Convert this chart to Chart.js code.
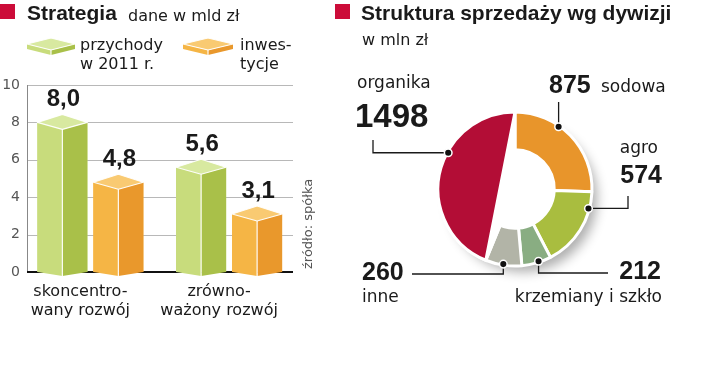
<!DOCTYPE html>
<html><head><meta charset="utf-8">
<script src="https://cdn.jsdelivr.net/npm/chart.js@4.4.1/dist/chart.umd.min.js"></script>
<style>
html,body{margin:0;padding:0;background:#fff;width:720px;height:379px;overflow:hidden;}
#wrap{position:relative;width:720px;height:379px;}
canvas{position:absolute;top:0;}
#c1{left:0;} #c2{left:320px;}
.t{position:absolute;white-space:nowrap;line-height:1;color:#1a1a1a;}
.sq{position:absolute;background:#cc0c39;width:15px;height:15px;}
.bold{font-family:"Liberation Sans",Arial,sans-serif;font-weight:bold;font-size:21px;}
.reg{font-family:"DejaVu Sans",sans-serif;font-size:16px;}
#src{font-family:"DejaVu Sans",sans-serif;font-size:13px;color:#555;transform:rotate(-90deg);transform-origin:0 0;}
</style></head>
<body><div id="wrap">
<canvas id="c1" width="320" height="379"></canvas>
<canvas id="c2" width="400" height="379"></canvas>
<div class="sq" style="left:0;top:4px"></div>
<div class="t bold" style="left:27px;top:2px">Strategia</div>
<div class="t reg" style="left:128px;top:7.5px">dane w mld zł</div>
<div class="sq" style="left:335px;top:4px"></div>
<div class="t bold" style="left:361px;top:1.7px">Struktura sprzedaży wg dywizji</div>
<div class="t reg" style="left:362px;top:31.5px">w mln zł</div>
<div class="t" id="src" style="left:300.5px;top:269px">źródło: spółka</div>
</div>
<script>
// ---------- data ----------
const categories = [['skoncentro-', 'wany rozwój'], ['zrówno-', 'ważony rozwój']];
const seriesLabels = [['przychody', 'w 2011 r.'], ['inwes-', 'tycje']];
const revenue2011 = [8.0, 5.6];
const investments = [4.8, 3.1];
const yTickValues = [0, 2, 4, 6, 8, 10];

const divisions = ['sodowa', 'agro', 'krzemiany i szkło', 'inne', 'organika'];
const divisionSales = [875, 574, 212, 260, 1498];

// ---------- styles ----------
const FONT_REG = '"DejaVu Sans", sans-serif';
const FONT_BOLD = '"Liberation Sans", Arial, sans-serif';
const BAR_STYLE = [
  {left: '#c8dc7c', right: '#a9c049', top: '#d8e9a0'},
  {left: '#f5b545', right: '#e9982c', top: '#f9ca72'}
];
const DONUT_COLORS = ['#e8952b', '#a9bd3f', '#89ad82', '#b2b4a7', '#b30d36'];

function poly(ctx, pts) {
  ctx.beginPath();
  ctx.moveTo(pts[0][0], pts[0][1]);
  for (let i = 1; i < pts.length; i++) ctx.lineTo(pts[i][0], pts[i][1]);
  ctx.closePath();
}
function drawBox(ctx, L, R, top, bottom, st, fr, bk, frB) {
  const M = L + (R - L) * 0.5;
  ctx.save();
  ctx.lineJoin = 'round';
  ctx.fillStyle = st.left;
  poly(ctx, [[L, top], [M, top + fr], [M, bottom + frB], [L, bottom]]); ctx.fill();
  ctx.fillStyle = st.right;
  poly(ctx, [[M, top + fr], [R, top], [R, bottom], [M, bottom + frB]]); ctx.fill();
  ctx.fillStyle = st.top;
  poly(ctx, [[L, top], [M, top - bk], [R, top], [M, top + fr]]); ctx.fill();
  ctx.strokeStyle = 'rgba(255,255,255,0.95)';
  ctx.lineWidth = 1.2;
  poly(ctx, [[L, top], [M, top - bk], [R, top], [M, top + fr]]); ctx.stroke();
  ctx.beginPath(); ctx.moveTo(M, top + fr); ctx.lineTo(M, bottom + frB); ctx.stroke();
  ctx.restore();
}
const fmt = v => v.toFixed(1).replace('.', ',');

// ---------- bar chart ----------
const barDeco = {
  id: 'barDeco',
  beforeDatasetsDraw(chart) {
    const {ctx, chartArea: a, scales: {y}} = chart;
    const gl = a.left + 6, gr = a.right - 5.5;
    ctx.save();
    ctx.strokeStyle = '#b8b8b8'; ctx.lineWidth = 1;
    yTickValues.forEach(v => {
      if (v === 0) return;
      const py = Math.round(y.getPixelForValue(v)) + 0.5;
      ctx.beginPath(); ctx.moveTo(gl, py); ctx.lineTo(gr, py); ctx.stroke();
    });
    ctx.strokeStyle = '#888';
    ctx.beginPath();
    ctx.moveTo(gl + 0.5, y.getPixelForValue(yTickValues[yTickValues.length - 1]));
    ctx.lineTo(gl + 0.5, y.getPixelForValue(0)); ctx.stroke();
    ctx.strokeStyle = '#111'; ctx.lineWidth = 2;
    const by = Math.round(y.getPixelForValue(0));
    ctx.beginPath(); ctx.moveTo(gl, by); ctx.lineTo(gr, by); ctx.stroke();
    ctx.restore();
  },
  afterDatasetsDraw(chart) {
    const ctx = chart.ctx;
    chart.data.datasets.forEach((ds, di) => {
      const meta = chart.getDatasetMeta(di);
      meta.data.forEach((el, i) => {
        const {x, y, base, width} = el.getProps(['x', 'y', 'base', 'width'], true);
        drawBox(ctx, x - width / 2, x + width / 2, y, base, BAR_STYLE[di], 7, 8, 4);
        ctx.save();
        ctx.fillStyle = '#1a1a1a';
        ctx.font = 'bold 24px ' + FONT_BOLD;
        ctx.textAlign = 'center'; ctx.textBaseline = 'alphabetic';
        ctx.fillText(fmt(ds.data[i]), x + 1, y - 16);
        ctx.restore();
      });
    });
  },
  afterDraw(chart) {
    const ctx = chart.ctx;
    const legendPos = [{L: 27, R: 75, tx: 80}, {L: 183, R: 233, tx: 240}];
    seriesLabels.forEach((lines, i) => {
      const p = legendPos[i];
      drawBox(ctx, p.L, p.R, 44, 49, BAR_STYLE[i], 6, 6, 6);
      ctx.save();
      ctx.fillStyle = '#1a1a1a';
      ctx.font = '16px ' + FONT_REG;
      ctx.textAlign = 'left';
      ctx.fillText(lines[0], p.tx, 50);
      ctx.fillText(lines[1], p.tx, 69);
      ctx.restore();
    });
  }
};

new Chart(document.getElementById('c1'), {
  type: 'bar',
  data: {
    labels: categories,
    datasets: [
      {label: 'przychody w 2011 r.', data: revenue2011, backgroundColor: BAR_STYLE[0].left,
       categoryPercentage: 0.807, barPercentage: 0.893},
      {label: 'inwestycje', data: investments, backgroundColor: BAR_STYLE[1].left,
       categoryPercentage: 0.807, barPercentage: 0.893}
    ]
  },
  options: {
    responsive: false, animation: false,
    layout: {padding: {left: 0, right: 21.5, top: 85, bottom: 57}},
    plugins: {legend: {display: false}, tooltip: {enabled: false}},
    scales: {
      x: {
        grid: {display: false, drawTicks: false}, border: {display: false},
        ticks: {font: {family: FONT_REG, size: 16, lineHeight: 1.2}, color: '#1a1a1a',
                padding: 10, labelOffset: -10, maxRotation: 0, autoSkip: false},
        afterFit(s) { s.height = 50; }
      },
      y: {
        min: 0, max: 10,
        afterBuildTicks(s) { s.ticks = yTickValues.map(v => ({value: v})); },
        grid: {display: false, drawTicks: false}, border: {display: false},
        ticks: {font: {family: FONT_REG, size: 14}, color: '#555', padding: 1},
        afterFit(s) { s.width = 21; }
      }
    }
  },
  plugins: [barDeco]
});

// ---------- doughnut ----------
const callouts = {
  'sodowa': {frac: 0.38, path: [['v', 102]],
    texts: [{t: 'value', x: 229, y: 93, align: 'left'}, {t: 'name', x: 281, y: 92, align: 'left'}]},
  'agro': {frac: 0.21, path: [['h', 308], ['v', 196]],
    texts: [{t: 'name', x: 338, y: 153, align: 'right'}, {t: 'value', x: 342, y: 183, align: 'right'}]},
  'krzemiany i szkło': {frac: 0.42, path: [['v', 273], ['h', 288]],
    texts: [{t: 'value', x: 341, y: 279, align: 'right'}, {t: 'name', x: 342, y: 302, align: 'right'}]},
  'inne': {frac: 0.51, path: [['v', 274], ['h', 92]],
    texts: [{t: 'value', x: 42, y: 280, align: 'left'}, {t: 'name', x: 42, y: 302, align: 'left'}]},
  'organika': {frac: 0.61, path: [['h', 53], ['v', 140]], big: true,
    texts: [{t: 'name', x: 37, y: 88, align: 'left'}, {t: 'value', x: 35, y: 127, align: 'left'}]}
};

const donutDeco = {
  id: 'donutDeco',
  beforeDatasetsDraw(chart) {
    const arc = chart.getDatasetMeta(0).data[0];
    const {x, y, outerRadius} = arc.getProps(['x', 'y', 'outerRadius'], true);
    const ctx = chart.ctx;
    ctx.save();
    ctx.shadowColor = 'rgba(0,0,0,0.32)';
    ctx.shadowBlur = 12; ctx.shadowOffsetX = 8; ctx.shadowOffsetY = 9;
    ctx.fillStyle = '#fff';
    ctx.beginPath(); ctx.arc(x, y, outerRadius - 3, 0, Math.PI * 2); ctx.fill();
    ctx.restore();
  },
  afterDatasetsDraw(chart) {
    const ctx = chart.ctx;
    const meta = chart.getDatasetMeta(0);
    const ds = chart.data.datasets[0];
    // organika drawn as a chord segment (inner edge is a straight chord)
    const oi = divisions.indexOf('organika');
    const oa = meta.data[oi].getProps(['x', 'y', 'startAngle', 'endAngle', 'outerRadius'], true);
    const p1 = [oa.x + Math.cos(oa.startAngle) * oa.outerRadius, oa.y + Math.sin(oa.startAngle) * oa.outerRadius];
    const p2 = [oa.x + Math.cos(oa.endAngle) * oa.outerRadius, oa.y + Math.sin(oa.endAngle) * oa.outerRadius];
    ctx.save();
    ctx.fillStyle = '#fff';
    poly(ctx, [[oa.x, oa.y], p1, p2]); ctx.fill();
    ctx.beginPath();
    ctx.arc(oa.x, oa.y, oa.outerRadius, oa.startAngle, oa.endAngle);
    ctx.closePath();
    ctx.fillStyle = ds.backgroundColor[oi];
    ctx.fill();
    ctx.strokeStyle = '#fff'; ctx.lineWidth = 3; ctx.lineJoin = 'miter';
    ctx.stroke();
    ctx.restore();

    divisions.forEach((name, i) => {
      const c = callouts[name];
      const a = meta.data[i].getProps(['x', 'y', 'startAngle', 'endAngle', 'outerRadius'], true);
      const ang = a.startAngle + (a.endAngle - a.startAngle) * c.frac;
      const r = a.outerRadius - 1;
      const dx = a.x + Math.cos(ang) * r, dy = a.y + Math.sin(ang) * r;
      ctx.save();
      ctx.strokeStyle = '#1a1a1a'; ctx.lineWidth = 1.3;
      ctx.beginPath(); ctx.moveTo(dx, dy);
      let px = dx, py = dy;
      c.path.forEach(([d, v]) => { if (d === 'h') px = v; else py = v; ctx.lineTo(px, py); });
      ctx.stroke();
      ctx.beginPath(); ctx.arc(dx, dy, 3.8, 0, Math.PI * 2);
      ctx.fillStyle = '#111'; ctx.fill();
      ctx.strokeStyle = '#fff'; ctx.lineWidth = 1.5; ctx.stroke();
      ctx.fillStyle = '#1a1a1a';
      c.texts.forEach(tt => {
        ctx.textAlign = tt.align;
        if (tt.t === 'value') {
          ctx.font = 'bold ' + (c.big ? 33 : 25) + 'px ' + FONT_BOLD;
          ctx.fillText(String(divisionSales[i]), tt.x, tt.y);
        } else {
          ctx.font = '17px ' + FONT_REG;
          ctx.fillText(name, tt.x, tt.y);
        }
      });
      ctx.restore();
    });
  }
};

new Chart(document.getElementById('c2'), {
  type: 'doughnut',
  data: {
    labels: divisions,
    datasets: [{data: divisionSales, backgroundColor: DONUT_COLORS, borderColor: '#fff', borderWidth: 3}]
  },
  options: {
    responsive: false, animation: false,
    cutout: '51%', radius: 77,
    layout: {padding: {left: 95, right: 105, top: 89, bottom: 90}},
    plugins: {legend: {display: false}, tooltip: {enabled: false}}
  },
  plugins: [donutDeco]
});
</script>
</body></html>
